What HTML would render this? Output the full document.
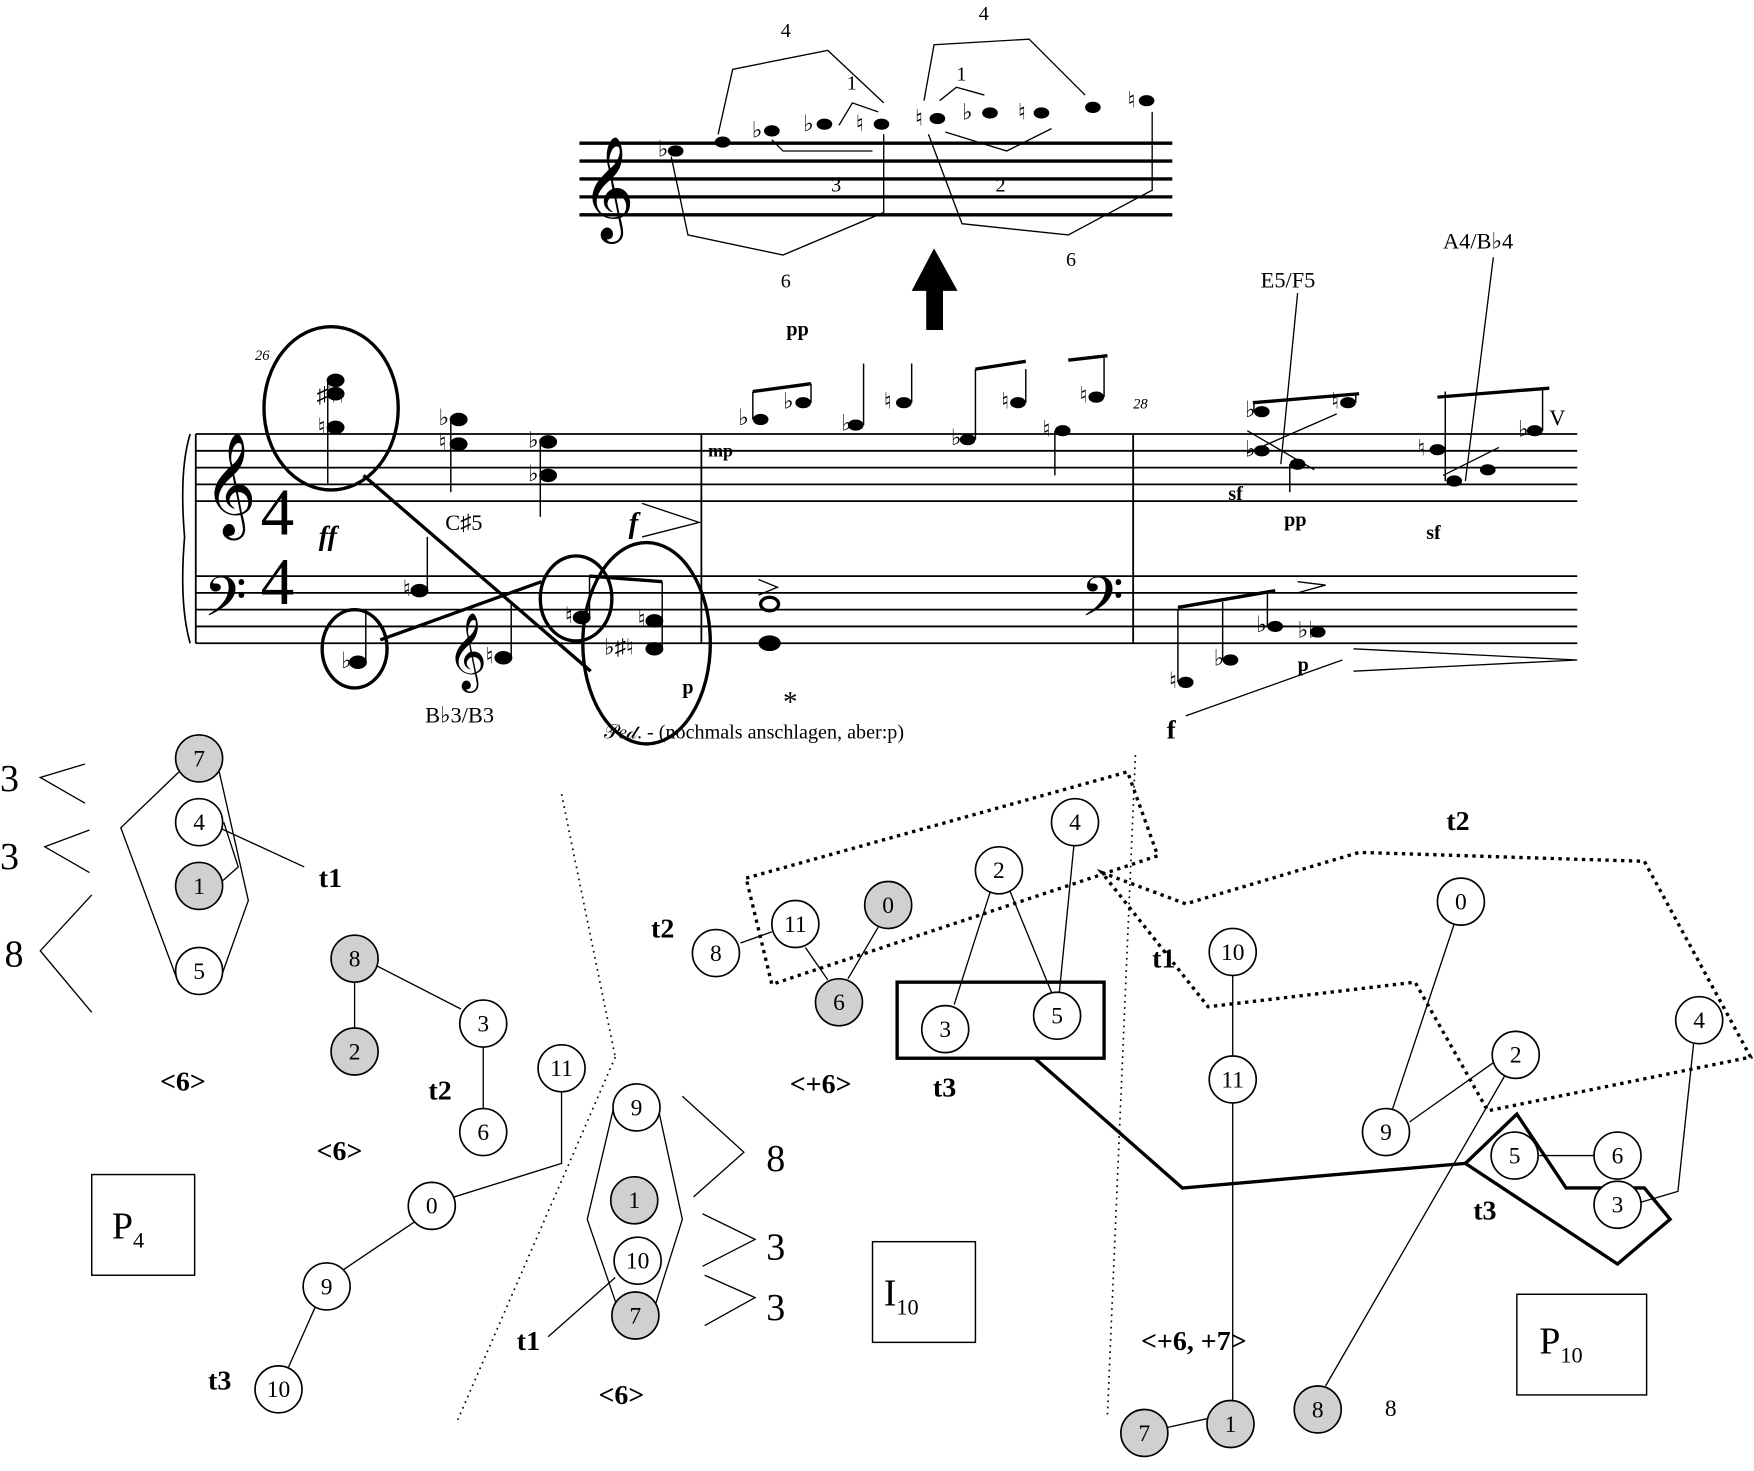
<!DOCTYPE html>
<html><head><meta charset="utf-8"><style>
html,body{margin:0;padding:0;background:#fff;width:1754px;height:1471px;overflow:hidden}
svg{display:block}
text{font-family:"Liberation Serif",serif;fill:#000}
.n circle{stroke:#000;stroke-width:1.5;fill:#fff}
.g circle{fill:#d0d0d0}
.n text{font-size:21px;text-anchor:middle}
.b{font-weight:bold;font-size:25px}
.a{font-size:22px}
</style></head><body>
<svg width="1754" height="1471" viewBox="0 0 1568 1315" preserveAspectRatio="none">
<g stroke="#000" stroke-width="3">
<line x1="518" y1="128" x2="1048" y2="128"/><line x1="518" y1="144" x2="1048" y2="144"/><line x1="518" y1="160" x2="1048" y2="160"/><line x1="518" y1="176" x2="1048" y2="176"/><line x1="518" y1="192" x2="1048" y2="192"/>
</g>
<text x="520" y="195" font-size="80">𝄞</text>
<g fill="#000">
<ellipse cx="604" cy="135" rx="7" ry="5"/><ellipse cx="646" cy="127" rx="7" ry="5"/><ellipse cx="690" cy="117" rx="7" ry="5"/><ellipse cx="737" cy="111" rx="7" ry="5"/><ellipse cx="788" cy="111" rx="7" ry="5"/><ellipse cx="838" cy="106" rx="7" ry="5"/><ellipse cx="885" cy="101" rx="7" ry="5"/><ellipse cx="931" cy="101" rx="7" ry="5"/><ellipse cx="977" cy="96" rx="7" ry="5"/><ellipse cx="1025" cy="90" rx="7" ry="5"/>
</g>
<g font-size="20"><text x="588" y="140">♭</text><text x="672" y="123">♭</text><text x="718" y="117">♭</text><text x="765" y="117">♮</text><text x="818" y="112">♮</text><text x="860" y="107">♭</text><text x="910" y="107">♮</text><text x="1008" y="96">♮</text></g>
<g fill="none" stroke="#000" stroke-width="1.2">
<polyline points="642,120 655,62 740,45 790,92"/><polyline points="750,112 762,92 785,100"/><polyline points="826,90 835,40 920,35 970,85"/><polyline points="840,90 855,78 880,85"/>
<polyline points="600,140 615,210 700,228 790,190 790,120"/><polyline points="690,125 700,135 780,135"/><polyline points="830,120 860,200 955,210 1030,170 1030,100"/><polyline points="845,118 900,135 940,115"/>
</g>
<text x="698" y="33" font-size="18">4</text><text x="875" y="18" font-size="18">4</text><text x="757" y="80" font-size="18">1</text><text x="855" y="72" font-size="18">1</text><text x="743" y="171" font-size="18">3</text><text x="890" y="171" font-size="18">2</text><text x="698" y="257" font-size="18">6</text><text x="953" y="238" font-size="18">6</text>
<polygon points="828,255 843,255 843,295 828,295" fill="#000"/><polygon points="815,260 835,222 856,260" fill="#000"/>
<g stroke="#000" stroke-width="1.6">
<line x1="175" y1="388" x2="1410" y2="388"/><line x1="175" y1="403" x2="1410" y2="403"/><line x1="175" y1="418" x2="1410" y2="418"/><line x1="175" y1="433" x2="1410" y2="433"/><line x1="175" y1="448" x2="1410" y2="448"/>
<line x1="175" y1="515" x2="1410" y2="515"/><line x1="175" y1="530" x2="1410" y2="530"/><line x1="175" y1="545" x2="1410" y2="545"/><line x1="175" y1="560" x2="1410" y2="560"/><line x1="175" y1="575" x2="1410" y2="575"/>
<line x1="175" y1="388" x2="175" y2="575"/><line x1="627" y1="388" x2="627" y2="575"/><line x1="1013" y1="388" x2="1013" y2="575"/>
</g>
<path d="M170,388 Q160,420 165,480 Q160,540 170,575" fill="none" stroke="#000" stroke-width="1.5"/>
<text x="182" y="460" font-size="80">𝄞</text><text x="182" y="560" font-size="60">𝄢</text><text x="966" y="560" font-size="60">𝄢</text>
<text x="233" y="478" font-size="60">4</text><text x="233" y="540" font-size="60">4</text>
<text x="285" y="487" class="b" font-size="26" font-style="italic">ff</text>
<text x="398" y="474" font-size="20">C♯5</text><text x="380" y="646" font-size="20">B♭3/B3</text>
<text x="1127" y="257" font-size="20">E5/F5</text><text x="1290" y="222" font-size="20">A4/B♭4</text>
<text x="228" y="322" font-size="13" font-style="italic">26</text><text x="1013" y="365" font-size="13" font-style="italic">28</text>
<text x="562" y="476" font-size="26" font-style="italic" font-weight="bold">f</text>
<text x="633" y="408" font-size="16" font-weight="bold">mp</text><text x="703" y="300" font-size="18" font-weight="bold">pp</text>
<text x="1098" y="447" font-size="18" font-weight="bold">sf</text><text x="1148" y="470" font-size="18" font-weight="bold">pp</text><text x="1275" y="482" font-size="18" font-weight="bold">sf</text>
<text x="1160" y="600" font-size="18" font-weight="bold">p</text><text x="1043" y="660" font-size="24" font-weight="bold">f</text><text x="610" y="620" font-size="18" font-weight="bold">p</text>
<text x="540" y="660" font-size="18">𝒫𝑒𝒹. - (nochmals anschlagen, aber:p)</text>
<text x="700" y="636" font-size="26">*</text>
<g fill="#000">
<ellipse cx="300" cy="340" rx="8" ry="6"/><ellipse cx="300" cy="352" rx="8" ry="6"/><ellipse cx="300" cy="382" rx="8" ry="6"/><ellipse cx="410" cy="375" rx="8" ry="6"/><ellipse cx="410" cy="397" rx="8" ry="6"/><ellipse cx="490" cy="395" rx="8" ry="6"/><ellipse cx="490" cy="425" rx="8" ry="6"/>
<ellipse cx="680" cy="375" rx="7" ry="5"/><ellipse cx="718" cy="360" rx="7" ry="5"/><ellipse cx="765" cy="380" rx="7" ry="5"/><ellipse cx="808" cy="360" rx="7" ry="5"/><ellipse cx="865" cy="393" rx="7" ry="5"/><ellipse cx="910" cy="360" rx="7" ry="5"/><ellipse cx="950" cy="385" rx="7" ry="5"/><ellipse cx="980" cy="355" rx="7" ry="5"/>
<ellipse cx="1128" cy="368" rx="7" ry="5"/><ellipse cx="1128" cy="403" rx="7" ry="5"/><ellipse cx="1160" cy="415" rx="7" ry="5"/><ellipse cx="1205" cy="360" rx="7" ry="5"/><ellipse cx="1285" cy="402" rx="7" ry="5"/><ellipse cx="1300" cy="430" rx="7" ry="5"/><ellipse cx="1330" cy="420" rx="7" ry="5"/><ellipse cx="1372" cy="385" rx="7" ry="5"/>
<ellipse cx="320" cy="592" rx="8" ry="6"/><ellipse cx="375" cy="528" rx="8" ry="6"/><ellipse cx="450" cy="588" rx="8" ry="6"/><ellipse cx="520" cy="552" rx="8" ry="6"/><ellipse cx="585" cy="555" rx="8" ry="6"/><ellipse cx="585" cy="580" rx="8" ry="6"/>
<ellipse cx="1060" cy="610" rx="7" ry="5"/><ellipse cx="1100" cy="590" rx="7" ry="5"/><ellipse cx="1140" cy="560" rx="7" ry="5"/><ellipse cx="1178" cy="565" rx="7" ry="5"/>
<ellipse cx="688" cy="540" rx="8" ry="6" fill="none" stroke="#000" stroke-width="3"/><ellipse cx="688" cy="575" rx="10" ry="7"/>
</g>
<g stroke="#000" stroke-width="1.3">
<line x1="293" y1="340" x2="293" y2="432"/><line x1="403" y1="375" x2="403" y2="440"/><line x1="483" y1="395" x2="483" y2="462"/><line x1="673" y1="375" x2="673" y2="350"/><line x1="725" y1="360" x2="725" y2="343"/><line x1="772" y1="380" x2="772" y2="325"/><line x1="815" y1="360" x2="815" y2="325"/><line x1="872" y1="393" x2="872" y2="330"/><line x1="917" y1="360" x2="917" y2="330"/><line x1="943" y1="385" x2="943" y2="425"/><line x1="987" y1="355" x2="987" y2="320"/>
<line x1="1121" y1="368" x2="1121" y2="360"/><line x1="1212" y1="360" x2="1212" y2="352"/><line x1="1153" y1="415" x2="1153" y2="440"/><line x1="1292" y1="350" x2="1292" y2="430"/><line x1="1379" y1="385" x2="1379" y2="347"/>
<line x1="327" y1="592" x2="327" y2="545"/><line x1="382" y1="528" x2="382" y2="480"/><line x1="457" y1="588" x2="457" y2="540"/><line x1="527" y1="552" x2="527" y2="515"/><line x1="592" y1="580" x2="592" y2="520"/>
<line x1="1053" y1="610" x2="1053" y2="545"/><line x1="1093" y1="590" x2="1093" y2="538"/><line x1="1133" y1="560" x2="1133" y2="528"/>
</g>
<g font-size="20"><text x="283" y="360">♯♮♮</text><text x="284" y="388">♮</text><text x="392" y="380">♭</text><text x="392" y="402">♮</text><text x="472" y="400">♭</text><text x="472" y="430">♭</text><text x="660" y="380">♭</text><text x="700" y="365">♭</text><text x="752" y="385">♭</text><text x="790" y="365">♮</text><text x="850" y="398">♭</text><text x="895" y="365">♮</text><text x="932" y="390">♮</text><text x="965" y="360">♮</text><text x="305" y="597">♭</text><text x="360" y="533">♮</text><text x="434" y="593">♮</text><text x="505" y="557">♮</text><text x="540" y="585">♭♯♮</text><text x="570" y="560">♮</text><text x="1113" y="373">♭</text><text x="1113" y="408">♭</text><text x="1190" y="365">♮</text><text x="1267" y="407">♮</text><text x="1357" y="390">♭</text><text x="1045" y="615">♮</text><text x="1085" y="595">♭</text><text x="1123" y="565">♭</text><text x="1160" y="570">♭♭</text></g>
<text x="1385" y="380" font-size="20">V</text>
<text x="400" y="602" font-size="60">𝄞</text>
<g fill="none" stroke="#000" stroke-width="3">
<ellipse cx="296" cy="365" rx="60" ry="73"/><ellipse cx="317" cy="580" rx="29" ry="35"/><ellipse cx="515" cy="535" rx="32" ry="38"/><ellipse cx="578" cy="575" rx="57" ry="90"/>
<line x1="325" y1="425" x2="528" y2="600"/><line x1="340" y1="572" x2="484" y2="520"/>
<line x1="673" y1="350" x2="725" y2="343"/><line x1="1120" y1="360" x2="1215" y2="352"/><line x1="1285" y1="355" x2="1385" y2="347"/><line x1="527" y1="515" x2="592" y2="520"/><line x1="1053" y1="543" x2="1140" y2="528"/><line x1="872" y1="330" x2="917" y2="323"/><line x1="955" y1="322" x2="990" y2="318"/>
</g>
<g fill="none" stroke="#000" stroke-width="1.2">
<line x1="1115" y1="385" x2="1175" y2="420"/><line x1="1115" y1="405" x2="1195" y2="370"/><line x1="1160" y1="262" x2="1145" y2="415"/><line x1="1335" y1="230" x2="1310" y2="430"/><line x1="1290" y1="425" x2="1340" y2="400"/>
<polyline points="574,450 625,467 574,480"/><polyline points="1210,580 1410,590 1210,600"/><polyline points="1060,640 1200,590"/><polyline points="678,518 695,525 678,532"/><polyline points="1160,520 1185,523 1160,530"/>
</g>
<g fill="none" stroke="#000" stroke-width="1.5" stroke-dasharray="1.5,4">
<line x1="502" y1="710" x2="550" y2="945"/><line x1="550" y1="945" x2="408" y2="1272"/><line x1="1015" y1="675" x2="990" y2="1265"/>
</g>
<g fill="none" stroke="#000" stroke-width="1.2">
<polyline points="76,683 36,695 76,718"/><polyline points="80,742 40,757 80,780"/><polyline points="82,800 36,850 82,905"/>
<polyline points="160,690 108,740 160,880"/><polyline points="196,690 222,805 196,878"/><polyline points="196,740 272,775"/><polyline points="200,735 213,775 196,790"/>
<line x1="334" y1="862" x2="412" y2="902"/><line x1="317" y1="878" x2="317" y2="920"/><line x1="432" y1="936" x2="432" y2="992"/>
<polyline points="502,976 502,1040 406,1070"/><line x1="371" y1="1092" x2="307" y2="1135"/><line x1="282" y1="1168" x2="258" y2="1222"/>
<polyline points="551,980 525,1090 551,1166"/><polyline points="586,980 610,1090 586,1166"/><line x1="550" y1="1142" x2="490" y2="1195"/>
<polyline points="610,980 665,1030 620,1070"/><polyline points="628,1085 675,1108 628,1132"/><polyline points="630,1140 675,1160 630,1185"/>
<line x1="662" y1="843" x2="690" y2="833"/><line x1="720" y1="847" x2="740" y2="876"/><line x1="785" y1="829" x2="758" y2="875"/><line x1="885" y1="798" x2="853" y2="898"/><line x1="903" y1="797" x2="940" y2="887"/><line x1="960" y1="756" x2="947" y2="887"/>
<line x1="1102" y1="872" x2="1102" y2="944"/><line x1="1102" y1="986" x2="1102" y2="1252"/><line x1="1044" y1="1276" x2="1080" y2="1268"/>
<line x1="1300" y1="826" x2="1245" y2="991"/><line x1="1335" y1="950" x2="1260" y2="1003"/><line x1="1345" y1="962" x2="1185" y2="1239"/><polyline points="1514,933 1500,1065 1466,1075"/><line x1="1376" y1="1033" x2="1425" y2="1033"/>
</g>
<g fill="none" stroke="#000" stroke-width="3" stroke-dasharray="3,4">
<polygon points="667,785 1008,690 1035,765 690,880"/>
<polygon points="985,780 1060,808 1215,762 1470,770 1565,945 1330,993 1265,878 1080,900"/>
</g>
<rect x="802" y="878" width="185" height="68" fill="none" stroke="#000" stroke-width="3"/>
<polyline points="925,946 1057,1062 1310,1040" fill="none" stroke="#000" stroke-width="3"/>
<polygon points="1310,1040 1356,996 1400,1062 1470,1062 1493,1090 1446,1130" fill="none" stroke="#000" stroke-width="3"/>
<rect x="82" y="1050" width="92" height="90" fill="none" stroke="#000" stroke-width="1.3"/>
<rect x="780" y="1110" width="92" height="90" fill="none" stroke="#000" stroke-width="1.3"/>
<rect x="1356" y="1157" width="116" height="90" fill="none" stroke="#000" stroke-width="1.3"/>
<text x="100" y="1107" font-size="34">P<tspan font-size="20" dy="8">4</tspan></text>
<text x="790" y="1167" font-size="34">I<tspan font-size="20" dy="8">10</tspan></text>
<text x="1376" y="1210" font-size="34">P<tspan font-size="20" dy="8">10</tspan></text>
<text x="0" y="707" font-size="34">3</text><text x="0" y="777" font-size="34">3</text><text x="4" y="864" font-size="34">8</text>
<text x="685" y="1047" font-size="34">8</text><text x="685" y="1126" font-size="34">3</text><text x="685" y="1180" font-size="34">3</text>
<text x="143" y="975" class="b" font-size="28">&lt;6&gt;</text><text x="283" y="1037" class="b" font-size="28">&lt;6&gt;</text><text x="535" y="1255" class="b" font-size="28">&lt;6&gt;</text><text x="706" y="977" class="b" font-size="28">&lt;+6&gt;</text><text x="1020" y="1207" class="b" font-size="28">&lt;+6, +7&gt;</text>
<text x="285" y="793" class="b">t1</text><text x="383" y="983" class="b">t2</text><text x="186" y="1242" class="b">t3</text><text x="462" y="1207" class="b">t1</text><text x="582" y="838" class="b">t2</text><text x="834" y="980" class="b">t3</text><text x="1030" y="865" class="b">t1</text><text x="1293" y="742" class="b">t2</text><text x="1317" y="1090" class="b">t3</text>
<text x="1238" y="1266" font-size="21">8</text>
<g class="n">
<g class="g"><circle cx="178" cy="678" r="21"/><text x="178" y="685">7</text></g>
<circle cx="178" cy="735" r="21"/><text x="178" y="742">4</text>
<g class="g"><circle cx="178" cy="792" r="21"/><text x="178" y="799">1</text></g>
<circle cx="178" cy="868" r="21"/><text x="178" y="875">5</text>
<g class="g"><circle cx="317" cy="857" r="21"/><text x="317" y="864">8</text></g>
<g class="g"><circle cx="317" cy="940" r="21"/><text x="317" y="947">2</text></g>
<circle cx="432" cy="915" r="21"/><text x="432" y="922">3</text>
<circle cx="432" cy="1012" r="21"/><text x="432" y="1019">6</text>
<circle cx="502" cy="955" r="21"/><text x="502" y="962">11</text>
<circle cx="386" cy="1078" r="21"/><text x="386" y="1085">0</text>
<circle cx="292" cy="1150" r="21"/><text x="292" y="1157">9</text>
<circle cx="249" cy="1242" r="21"/><text x="249" y="1249">10</text>
<circle cx="569" cy="990" r="21"/><text x="569" y="997">9</text>
<g class="g"><circle cx="567" cy="1073" r="21"/><text x="567" y="1080">1</text></g>
<circle cx="570" cy="1127" r="21"/><text x="570" y="1134">10</text>
<g class="g"><circle cx="568" cy="1176" r="21"/><text x="568" y="1183">7</text></g>
<circle cx="640" cy="852" r="21"/><text x="640" y="859">8</text>
<circle cx="711" cy="826" r="21"/><text x="711" y="833">11</text>
<g class="g"><circle cx="794" cy="809" r="21"/><text x="794" y="816">0</text></g>
<g class="g"><circle cx="750" cy="896" r="21"/><text x="750" y="903">6</text></g>
<circle cx="893" cy="778" r="21"/><text x="893" y="785">2</text>
<circle cx="961" cy="735" r="21"/><text x="961" y="742">4</text>
<circle cx="845" cy="920" r="21"/><text x="845" y="927">3</text>
<circle cx="945" cy="908" r="21"/><text x="945" y="915">5</text>
<circle cx="1102" cy="851" r="21"/><text x="1102" y="858">10</text>
<circle cx="1102" cy="965" r="21"/><text x="1102" y="972">11</text>
<circle cx="1306" cy="806" r="21"/><text x="1306" y="813">0</text>
<circle cx="1239" cy="1012" r="21"/><text x="1239" y="1019">9</text>
<circle cx="1355" cy="943" r="21"/><text x="1355" y="950">2</text>
<circle cx="1519" cy="912" r="21"/><text x="1519" y="919">4</text>
<circle cx="1354" cy="1033" r="21"/><text x="1354" y="1040">5</text>
<circle cx="1446" cy="1033" r="21"/><text x="1446" y="1040">6</text>
<circle cx="1446" cy="1077" r="21"/><text x="1446" y="1084">3</text>
<g class="g"><circle cx="1178" cy="1260" r="21"/><text x="1178" y="1267">8</text></g>
<g class="g"><circle cx="1100" cy="1273" r="21"/><text x="1100" y="1280">1</text></g>
<g class="g"><circle cx="1023" cy="1281" r="21"/><text x="1023" y="1288">7</text></g>
</g>
</svg>
</body></html>
